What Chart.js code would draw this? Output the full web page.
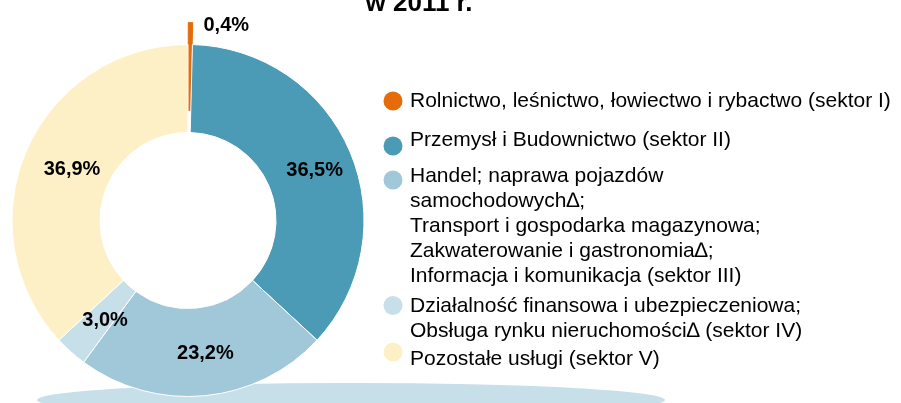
<!DOCTYPE html>
<html lang="pl">
<head>
<meta charset="utf-8">
<title>Pracujący według sektorów w 2011 r.</title>
<script src="https://cdn.jsdelivr.net/npm/chart.js@4.4.1/dist/chart.umd.min.js"></script>
<style>
  html, body { margin: 0; padding: 0; background: #fff; overflow: hidden; }
  #wrap { position: relative; width: 901px; height: 403px; }
</style>
</head>
<body>
<div id="wrap"><canvas id="chart1"></canvas></div>
<script>
// dane
const sektory = ['Sektor I', 'Sektor II', 'Sektor III', 'Sektor IV', 'Sektor V'];
const udzialy = [0.4, 36.5, 23.2, 3.0, 36.9];
const legenda = [
  ['Rolnictwo, leśnictwo, łowiectwo i rybactwo (sektor I)'],
  ['Przemysł i Budownictwo (sektor II)'],
  ['Handel; naprawa pojazdów', 'samochodowych\u2206;', 'Transport i gospodarka magazynowa;',
   'Zakwaterowanie i gastronomia\u2206;', 'Informacja i komunikacja (sektor III)'],
  ['Działalność finansowa i ubezpieczeniowa;', 'Obsługa rynku nieruchomości\u2206 (sektor IV)'],
  ['Pozostałe usługi (sektor V)']
];
const tytul = 'w 2011 r.';

// wyglad
const kolory = ['#E46C0A', '#4B9BB6', '#A0C8D8', '#C7DFE9', '#FEF0C6'];
const obramowanie = ['#E46C0A', '#fff', '#fff', '#fff', '#fff'];
const font = '"Liberation Sans", Arial, sans-serif';
const legendX = 410;
const legendBase = [106.7, 145.7, 181.7, 311.7, 365];
const markerY = [101, 146, 180, 305.5, 352];
const lineH = 25;
const wysuniecie = 22; // wysuniety wycinek sektora I

const procenty = udzialy.map(v => v.toFixed(1).replace('.', ',') + '%');

// przesuwa maly wycinek na zewnatrz (offset z Chart.js zweza go do zera)
const wysun = {
  id: 'wysun',
  afterDatasetsUpdate(chart) {
    chart.getDatasetMeta(0).data.forEach((arc, i) => {
      if (udzialy[i] < 1) {
        const a = (arc.startAngle + arc.endAngle) / 2;
        arc.x += Math.cos(a) * wysuniecie;
        arc.y += Math.sin(a) * wysuniecie;
      }
    });
  }
};

const tlo = {
  id: 'tlo',
  beforeDatasetsDraw(chart) {
    const ctx = chart.ctx;
    ctx.save();
    ctx.fillStyle = '#C6DFE8';
    ctx.beginPath();
    ctx.ellipse(351, 400, 314, 17, 0, 0, Math.PI * 2);
    ctx.fill();
    ctx.restore();
  }
};

const etykiety = {
  id: 'etykiety',
  afterDatasetsDraw(chart) {
    const ctx = chart.ctx;
    const meta = chart.getDatasetMeta(0);
    ctx.save();
    ctx.font = 'bold 20px ' + font;
    ctx.fillStyle = '#000';
    ctx.textBaseline = 'alphabetic';
    meta.data.forEach((arc, i) => {
      if (udzialy[i] < 1) {
        const a = (arc.startAngle + arc.endAngle) / 2;
        const x = arc.x + Math.cos(a) * arc.outerRadius;
        const y = arc.y + Math.sin(a) * arc.outerRadius;
        ctx.textAlign = 'left';
        ctx.fillText(procenty[i], x + 13, y + 8);
      } else {
        const pos = arc.tooltipPosition(true);
        ctx.textAlign = 'center';
        ctx.fillText(procenty[i], pos.x + 5, pos.y + 7);
      }
    });
    // tytul (gorna czesc ucieta)
    ctx.font = 'bold 26px ' + font;
    ctx.textAlign = 'center';
    ctx.fillText(tytul, 419, 11);
    ctx.restore();
  }
};

const legendaPlugin = {
  id: 'legendaWlasna',
  afterDraw(chart) {
    const ctx = chart.ctx;
    ctx.save();
    legenda.forEach((linie, i) => {
      ctx.fillStyle = kolory[i];
      ctx.beginPath();
      ctx.arc(393, markerY[i], 9.5, 0, Math.PI * 2);
      ctx.fill();
      ctx.fillStyle = '#000';
      ctx.font = '21px ' + font;
      ctx.textAlign = 'left';
      ctx.textBaseline = 'alphabetic';
      linie.forEach((t, j) => {
        ctx.fillText(t, legendX, legendBase[i] + j * lineH);
      });
    });
    ctx.restore();
  }
};

const ctx1 = document.getElementById('chart1');
new Chart(ctx1, {
  type: 'doughnut',
  data: {
    labels: sektory,
    datasets: [{
      data: udzialy,
      backgroundColor: kolory,
      borderColor: obramowanie,
      borderWidth: 1,
      clip: false
    }]
  },
  options: {
    responsive: true,
    maintainAspectRatio: false,
    animation: false,
    events: [],
    radius: 176,
    cutout: '50%',
    rotation: 0,
    layout: { padding: { left: 0, right: 525, top: 38, bottom: 0 } },
    plugins: {
      legend: { display: false },
      tooltip: { enabled: false },
      title: { display: false }
    }
  },
  plugins: [wysun, tlo, etykiety, legendaPlugin]
});
</script>
</body>
</html>
